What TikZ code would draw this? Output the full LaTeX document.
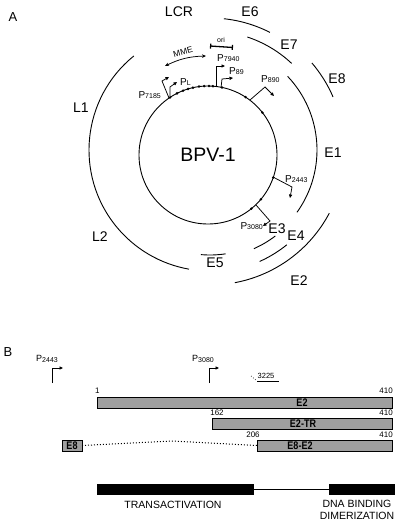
\documentclass[tikz,border=0pt]{standalone}
\usepackage{fontspec}
\setmainfont{Liberation Sans}
\newfontfamily\condfont[FakeStretch=0.82]{Liberation Sans}
\usetikzlibrary{arrows.meta}
\newcommand\Pn[1]{P\raisebox{-0.8pt}{\fontsize{7}{7}\selectfont #1}}
\newcommand\PnB[1]{{\fontsize{9}{9}\selectfont P}\raisebox{-0.3pt}{\fontsize{7}{7}\selectfont #1}}
\begin{document}
\begin{tikzpicture}[x=1pt,y=1pt,
  arcline/.style={line width=0.9pt},
  biglab/.style={font=\fontsize{14}{16}\selectfont, inner sep=0},
  prom/.style={line width=0.75pt, -{Triangle[length=3.5pt,width=3.2pt]}},
  plab/.style={font=\fontsize{10}{10}\selectfont, inner sep=0},
  numlab/.style={font=\fontsize{8}{8}\selectfont, inner sep=0},
  bar/.style={draw, fill=gray!75, line width=0.9pt},
  barlab/.style={font=\condfont\bfseries\fontsize{11}{11}\selectfont, inner sep=0},
  domlab/.style={font=\fontsize{10.5}{12}\selectfont, inner sep=0}]
\useasboundingbox (0,0) rectangle (403,-527);
% ---------- Panel A ----------
\node[font=\fontsize{13}{13}\selectfont, inner sep=0] (A) at (13,-17) {A};
\coordinate (c) at (208,-155);
\coordinate (ca) at (210,-150);
\draw[arcline] (c) circle[radius=69pt];
\node[font=\fontsize{19.5}{20}\selectfont, inner sep=0] (bpv) at (208,-155) {BPV-1};
% outer arcs
\draw[arcline] ([shift={(ca)}]129:121pt) arc[start angle=129,end angle=260,radius=121pt];
\draw[arcline] ([shift={(ca)}]43.5:107pt) arc[start angle=43.5,end angle=-35.6,radius=107pt];
\draw[arcline] ([shift={(ca)}]84:132pt) arc[start angle=84,end angle=63,radius=132pt];
\draw[arcline] ([shift={(ca)}]71.7:119pt) arc[start angle=71.7,end angle=46.7,radius=119pt];
\draw[arcline] ([shift={(ca)}]40.5:134pt) arc[start angle=40.5,end angle=23.3,radius=134pt];
\draw[arcline] ([shift={(ca)}]-27.9:135pt) arc[start angle=-27.9,end angle=-79.4,radius=135pt];
\draw[arcline] ([shift={(ca)}]-51:122pt) arc[start angle=-51,end angle=-66,radius=122pt];
\draw[arcline] ([shift={(ca)}]-52.8:108pt) arc[start angle=-52.8,end angle=-66,radius=108pt];
\draw[arcline] ([shift={(ca)}]-95:105pt) arc[start angle=-95,end angle=-81.5,radius=105pt];
% dots on circle
\foreach \a in {123.4,116.7,111.2,106.8,102.6,97.5,93.3,89.2,85.9,78.3,57,37.9,-19,-40,-51}
  \fill ([shift={(c)}]\a:69pt) circle[radius=1.4pt];
% arc labels
\node[biglab] (lcr) at (179,-12) {LCR};
\node[biglab] (e6) at (250,-12) {E6};
\node[biglab] (e7) at (289,-45) {E7};
\node[biglab] (e8) at (337,-79) {E8};
\node[biglab] (l1) at (81,-108) {L1};
\node[biglab] (e1) at (333,-153) {E1};
\node[biglab] (l2) at (100,-237) {L2};
\node[biglab] (e3) at (277,-229) {E3};
\node[biglab] (e4) at (296,-236) {E4};
\node[biglab] (e5) at (215,-263) {E5};
\node[biglab] (e2) at (299,-281) {E2};
% promoters
\draw[prom] (169,-98) -- (162,-81) -- (169,-77);
\draw[prom] (170,-96) -- (170,-87) -- (177,-82);
\draw[prom] (216,-87) -- (216,-66) -- (225,-66);
\draw[prom] (221,-88) -- (222,-79) -- (233,-78);
\draw[prom] (250,-100) -- (265,-87) -- (274,-96);
\draw[prom] (273,-177) -- (292,-187) -- (290,-198);
\draw[prom] (256,-205) -- (270,-221) -- (263,-226);
\node[plab, anchor=east] (p7185) at (161,-95) {\Pn{7185}};
\node[plab, anchor=west] (pl) at (180,-82) {\Pn{L}};
\node[plab, anchor=west] (p7940) at (217,-58) {\Pn{7940}};
\node[plab, anchor=west] (p89) at (229,-71) {\Pn{89}};
\node[plab, anchor=west] (p890) at (261,-79) {\Pn{890}};
\node[plab, anchor=west] (p2443) at (285,-179) {\Pn{2443}};
\node[plab, anchor=east] (p3080) at (263,-226) {\Pn{3080}};
% ori and MME
\coordinate (ori1) at (210,-46);
\coordinate (ori2) at (233,-47.5);
\draw[line width=1.3pt, {Bar[width=5pt]}-{Bar[width=5pt]}] (ori1) -- (ori2);
\node[font=\fontsize{7}{7}\selectfont, inner sep=0] (ori) at (221,-40) {ori};
\coordinate (mme1) at (165,-66);
\coordinate (mme2) at (206,-56);
\draw[line width=0.75pt, {Stealth[length=4pt,width=3.5pt]}-{Stealth[length=4pt,width=3.5pt]}] (mme1) to[bend left=12] (mme2);
\node[font=\fontsize{8.5}{9}\selectfont, inner sep=0, rotate=15] (mme) at (183,-52) {MME};
% ---------- Panel B ----------
\node[font=\fontsize{13}{13}\selectfont, inner sep=0] (B) at (8,-352) {B};
\node[inner sep=0] (bp2443) at (47,-359) {\PnB{2443}};
\node[inner sep=0] (bp3080) at (203,-359) {\PnB{3080}};
\draw[prom] (52,-383) -- (52,-368) -- (63,-368);
\draw[prom] (209,-383) -- (209,-368) -- (219,-368);
\coordinate (s1) at (251,-376);
\coordinate (s2) at (257,-381);
\coordinate (s3) at (279,-381);
\draw[line width=0.7pt, dotted] (s1) -- (s2);
\draw[line width=0.9pt] (s2) -- (s3);
\node[font=\fontsize{7.5}{8}\selectfont, inner sep=0] (n3225) at (266,-375.5) {3225};
% bars
\draw[bar] (97,-397) rectangle (392,-408);
\node[barlab] (be2) at (302,-402.5) {E2};
\node[numlab, anchor=west] (n1) at (95,-391) {1};
\node[numlab, anchor=east] (n410a) at (393,-391) {410};
\draw[bar] (212,-418) rectangle (392,-429);
\node[barlab] (be2tr) at (303,-423.5) {E2-TR};
\node[numlab] (n162) at (217,-413) {162};
\node[numlab, anchor=east] (n410b) at (393,-413) {410};
\draw[bar] (257,-440) rectangle (392,-451);
\node[barlab] (be8e2) at (300,-445.5) {E8-E2};
\node[numlab] (n206) at (253,-435) {206};
\node[numlab, anchor=east] (n410c) at (393,-435) {410};
\draw[bar] (62,-440) rectangle (82,-451);
\node[barlab] (be8) at (72,-445.5) {E8};
\coordinate (sp1) at (82,-445.5);
\coordinate (sp2) at (172,-441);
\coordinate (sp3) at (257,-445.5);
\draw[line width=1pt, dotted] (sp1) -- (sp2) -- (sp3);
% domains
\fill (97,-484) rectangle (254,-495);
\draw[line width=0.9pt] (254,-489.5) -- (329,-489.5);
\fill (329,-484) rectangle (395,-495);
\node[domlab] (ta) at (173,-505) {TRANSACTIVATION};
\node[domlab, align=center] (dna) at (357,-509.5) {DNA BINDING\\DIMERIZATION};
\end{tikzpicture}
\end{document}
